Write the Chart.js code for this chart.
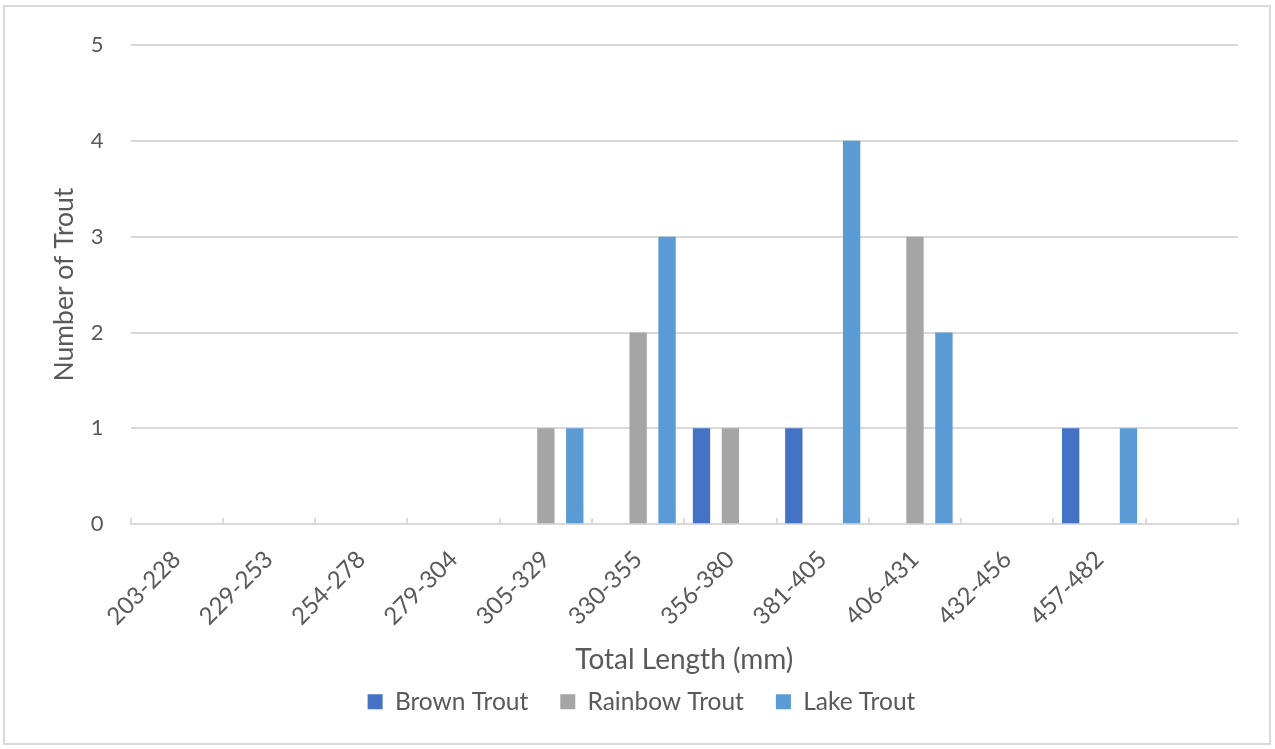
<!DOCTYPE html>
<html>
<head>
<meta charset="utf-8">
<script src="https://cdn.jsdelivr.net/npm/chart.js@4"></script>
<style>
	body { margin: 0; background: #fff; }
	#frame { position: absolute; left: 3px; top: 5px; width: 1268px; height: 740px; border: 2px solid #d9d9d9; box-sizing: border-box; }
	#chart { position: absolute; left: 0; top: 0; }
</style>
</head>
<body>
<div id="frame"></div>
<canvas id="chart" width="1275" height="749"></canvas>
<script>
const lengthBins = ['203-228', '229-253', '254-278', '279-304', '305-329', '330-355', '356-380', '381-405', '406-431', '432-456', '457-482', ''];
const brownTrout = [0, 0, 0, 0, 0, 0, 1, 1, 0, 0, 1, 0];
const rainbowTrout = [0, 0, 0, 0, 1, 2, 1, 0, 3, 0, 0, 0];
const lakeTrout = [0, 0, 0, 0, 1, 3, 0, 4, 2, 0, 1, 0];

const textColor = '#595959';
const lineColor = '#d9d9d9';
const fontFamily = 'Lato, "Open Sans", sans-serif';

// excel style tick marks pointing up from the x axis
const innerTicks = {
	id: 'innerTicks',
	afterDatasetsDraw(chart) {
		const x = chart.scales.x;
		const ctx = chart.ctx;
		const n = lengthBins.length;
		ctx.save();
		ctx.strokeStyle = lineColor;
		ctx.lineWidth = 2;
		ctx.beginPath();
		for (let i = 0; i <= n; i++) {
			const px = Math.round(x.left + (i * x.width) / n);
			ctx.moveTo(px, x.top - 6);
			ctx.lineTo(px, x.top);
		}
		ctx.stroke();
		ctx.restore();
	},
};

const config = {
	type: 'bar',
	data: {
		labels: lengthBins,
		datasets: [
			{ label: 'Brown Trout', data: brownTrout, backgroundColor: '#4472C4' },
			{ label: 'Rainbow Trout', data: rainbowTrout, backgroundColor: '#A5A5A5' },
			{ label: 'Lake Trout', data: lakeTrout, backgroundColor: '#5B9BD5' },
		],
	},
	options: {
		responsive: false,
		animation: false,
		categoryPercentage: 0.94,
		barPercentage: 0.6,
		layout: { padding: { left: 45, right: 37, top: 45, bottom: 25 } },
		plugins: {
			tooltip: { enabled: false },
			legend: {
				position: 'bottom',
				labels: {
					color: textColor,
					font: { family: fontFamily, size: 24.5 },
					boxWidth: 15,
					boxHeight: 15,
					padding: 32,
				},
			},
		},
		scales: {
			x: {
				grid: { display: false },
				border: { color: lineColor, width: 2 },
				ticks: {
					color: textColor,
					font: { family: fontFamily, size: 24 },
					maxRotation: 45,
					minRotation: 45,
					padding: 13,
				},
				title: {
					display: true,
					text: 'Total Length (mm)',
					color: textColor,
					font: { family: fontFamily, size: 28 },
					padding: { top: -1, bottom: -19 },
				},
			},
			y: {
				min: 0,
				max: 5,
				border: { display: false },
				grid: { color: lineColor, lineWidth: 2, drawTicks: false },
				ticks: {
					stepSize: 1,
					color: textColor,
					font: { family: fontFamily, size: 22 },
					padding: 27,
				},
				title: {
					display: true,
					text: 'Number of Trout',
					color: textColor,
					font: { family: fontFamily, size: 26.5 },
					padding: { top: 4, bottom: -17 },
				},
			},
		},
	},
	plugins: [innerTicks],
};

new Chart(document.getElementById('chart'), config);
</script>
</body>
</html>
